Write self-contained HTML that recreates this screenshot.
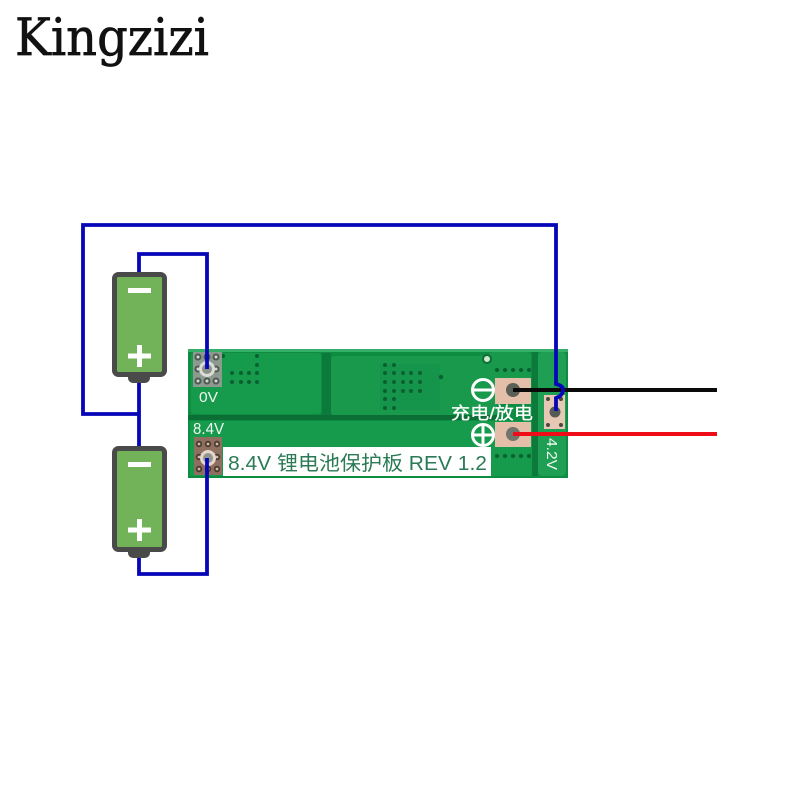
<!DOCTYPE html>
<html><head><meta charset="utf-8"><style>html,body{margin:0;padding:0;background:#fff}svg{display:block}</style></head>
<body>
<svg width="800" height="800" viewBox="0 0 800 800" xmlns="http://www.w3.org/2000/svg">
<rect width="800" height="800" fill="#fff"/>
<text x="15" y="55" font-family="'DejaVu Serif','Liberation Serif',serif" font-size="51" fill="#111" stroke="#111" stroke-width="0.7" textLength="194" lengthAdjust="spacingAndGlyphs">Kingzizi</text>

<!-- board -->
<rect x="188" y="349" width="380" height="129" fill="#0e8c42"/>
<rect x="188" y="349" width="380" height="3" fill="#36b068"/>
<rect x="191" y="353" width="130" height="61" rx="3" fill="#169a4b"/>
<rect x="331" y="356" width="166" height="59" rx="3" fill="#18994c"/>
<rect x="489" y="352" width="42" height="30" rx="3" fill="#18994c"/>
<rect x="322" y="353" width="9" height="63" fill="#0c7a3a"/>
<rect x="188" y="415" width="310" height="5" fill="#0b6f35"/>
<rect x="190" y="421" width="342" height="55" rx="2" fill="#169a4b"/>
<rect x="532" y="352" width="6" height="124" fill="#0b7a3a"/>
<rect x="538" y="352" width="28" height="124" rx="4" fill="#1f9f53"/>
<rect x="380" y="364" width="60" height="46" fill="#12924a" opacity=".5"/>
<circle cx="487" cy="359" r="4" fill="#cfe8cf" stroke="#0b6f35" stroke-width="2"/>

<!-- vias -->
<g fill="#0c5f30">
<circle cx="223" cy="356" r="2"/><circle cx="257" cy="356" r="2"/><circle cx="257" cy="365" r="2"/>
<circle cx="232" cy="373" r="2"/><circle cx="241" cy="373" r="2"/><circle cx="249" cy="373" r="2"/><circle cx="257" cy="373" r="2"/>
<circle cx="232" cy="382" r="2"/><circle cx="241" cy="382" r="2"/><circle cx="249" cy="382" r="2"/><circle cx="257" cy="382" r="2"/>
<circle cx="385" cy="365" r="2"/><circle cx="394" cy="365" r="2"/>
<circle cx="385" cy="373" r="2"/><circle cx="394" cy="373" r="2"/><circle cx="403" cy="373" r="2"/><circle cx="411" cy="373" r="2"/><circle cx="420" cy="373" r="2"/>
<circle cx="385" cy="382" r="2"/><circle cx="394" cy="382" r="2"/><circle cx="403" cy="382" r="2"/><circle cx="411" cy="382" r="2"/><circle cx="420" cy="382" r="2"/>
<circle cx="385" cy="391" r="2"/><circle cx="394" cy="391" r="2"/><circle cx="403" cy="391" r="2"/><circle cx="411" cy="391" r="2"/><circle cx="420" cy="391" r="2"/>
<circle cx="385" cy="399" r="2"/><circle cx="394" cy="399" r="2"/>
<circle cx="385" cy="408" r="2"/><circle cx="394" cy="408" r="2"/>
<circle cx="441" cy="377" r="2.200"/>
<circle cx="497" cy="370" r="2"/><circle cx="505" cy="370" r="2"/><circle cx="513" cy="370" r="2"/><circle cx="521" cy="370" r="2"/><circle cx="529" cy="370" r="2"/>
<circle cx="497" cy="456" r="2"/><circle cx="505" cy="456" r="2"/><circle cx="513" cy="456" r="2"/><circle cx="521" cy="456" r="2"/><circle cx="529" cy="456" r="2"/>
</g>

<!-- 0V pad -->
<rect x="193" y="352" width="29" height="35" fill="#8d9a90"/>
<g fill="#d8d8d2" stroke="#4d5a50" stroke-width="2">
<circle cx="198" cy="357" r="2.500"/><circle cx="207" cy="357" r="2.500"/><circle cx="216" cy="357" r="2.500"/>
<circle cx="198" cy="381" r="2.500"/><circle cx="207" cy="381" r="2.500"/><circle cx="216" cy="381" r="2.500"/>
<circle cx="198" cy="369" r="2.500"/><circle cx="216" cy="369" r="2.500"/>
</g>
<circle cx="207" cy="369" r="8" fill="#dcdcd6"/><circle cx="207" cy="369" r="5" fill="#8a9288"/>

<!-- 8.4V pad -->
<rect x="194" y="437" width="28" height="38" fill="#8f6f5f"/>
<g fill="#d0baa8" stroke="#4a3a30" stroke-width="1.800">
<circle cx="199" cy="444" r="2.300"/><circle cx="208" cy="444" r="2.300"/><circle cx="217" cy="444" r="2.300"/>
<circle cx="199" cy="469" r="2.300"/><circle cx="208" cy="469" r="2.300"/><circle cx="217" cy="469" r="2.300"/>
<circle cx="199" cy="457" r="2.300"/><circle cx="217" cy="457" r="2.300"/>
</g>
<circle cx="208" cy="458" r="8" fill="#e4d8cc"/><circle cx="208" cy="458" r="5" fill="#90968c"/>

<!-- label -->
<rect x="223" y="447" width="268" height="29" fill="#fff"/>
<text x="228" y="470" font-family="'Liberation Sans','Noto Sans CJK SC',sans-serif" font-size="20" fill="#2b7a56" textLength="259" lengthAdjust="spacingAndGlyphs">8.4V 锂电池保护板 REV 1.2</text>

<text x="199" y="402" font-family="'Liberation Sans',sans-serif" font-size="15" fill="#eef6ee" textLength="19" lengthAdjust="spacingAndGlyphs">0V</text>
<text x="193" y="434" font-family="'Liberation Sans',sans-serif" font-size="16" fill="#f4f8f4" textLength="31" lengthAdjust="spacingAndGlyphs">8.4V</text>

<!-- main pads -->
<rect x="495" y="378" width="36" height="26" fill="#e3bfa9"/>
<rect x="495" y="422" width="36" height="25" fill="#e3bfa9"/>
<circle cx="513" cy="390" r="7" fill="#5a5f58"/>
<circle cx="513" cy="434" r="7" fill="#70756e"/>

<!-- polarity symbols -->
<g fill="none" stroke="#fff" stroke-width="3">
<circle cx="483" cy="390" r="10.500"/><path d="M473 390H493"/>
<circle cx="483" cy="435" r="10.500"/><path d="M473 435H493M483 425V445"/>
</g>
<text x="451" y="419" font-family="'Liberation Sans','Noto Sans CJK SC',sans-serif" font-size="17" fill="#fff" stroke="#fff" stroke-width="0.3" textLength="82" lengthAdjust="spacingAndGlyphs">充电/放电</text>

<!-- 4.2V pad -->
<rect x="544" y="395" width="21" height="34" fill="#e6c8b4"/>
<g fill="#4a4a40"><circle cx="548" cy="399" r="2"/><circle cx="561" cy="399" r="2"/><circle cx="548" cy="425" r="2"/><circle cx="561" cy="425" r="2"/></g>
<circle cx="555" cy="412" r="5.500" fill="#555a55"/>
<text transform="translate(547,438) rotate(90)" font-family="'Liberation Sans',sans-serif" font-size="15" fill="#f2f8f2" textLength="32" lengthAdjust="spacingAndGlyphs">4.2V</text>

<!-- batteries -->
<g>
<path d="M128 376h22v2a5 5 0 0 1-5 5h-12a5 5 0 0 1-5-5z" fill="#4a4a4a"/>
<rect x="114.500" y="274.500" width="50" height="100" rx="4" fill="#72b359" stroke="#4a4a4a" stroke-width="5"/>
<rect x="128" y="288" width="23" height="5" fill="#fff"/>
<path d="M128 356h23M139.500 345v22" stroke="#fff" stroke-width="5" fill="none"/>
<path d="M128 551h22v2a5 5 0 0 1-5 5h-12a5 5 0 0 1-5-5z" fill="#4a4a4a"/>
<rect x="114.500" y="448.500" width="50" height="101" rx="4" fill="#72b359" stroke="#4a4a4a" stroke-width="5"/>
<rect x="128" y="462" width="23" height="5" fill="#fff"/>
<path d="M128 530h23M139.500 519v22" stroke="#fff" stroke-width="5" fill="none"/>
</g>

<!-- wires -->
<path d="M513 390H717" stroke="#0a0a0a" stroke-width="4" fill="none"/>
<path d="M513 434H717" stroke="#ee0c18" stroke-width="4" fill="none"/>
<g fill="none" stroke="#0606b8" stroke-width="3.800">
<path d="M139 414H83V225H556V384Q564 386 563 391Q562 396 556 398V411"/>
<path d="M139 272V254H207V369"/>
<path d="M139 383V446"/>
<path d="M139 558V574H207V458"/>
</g>
</svg>
</body></html>
